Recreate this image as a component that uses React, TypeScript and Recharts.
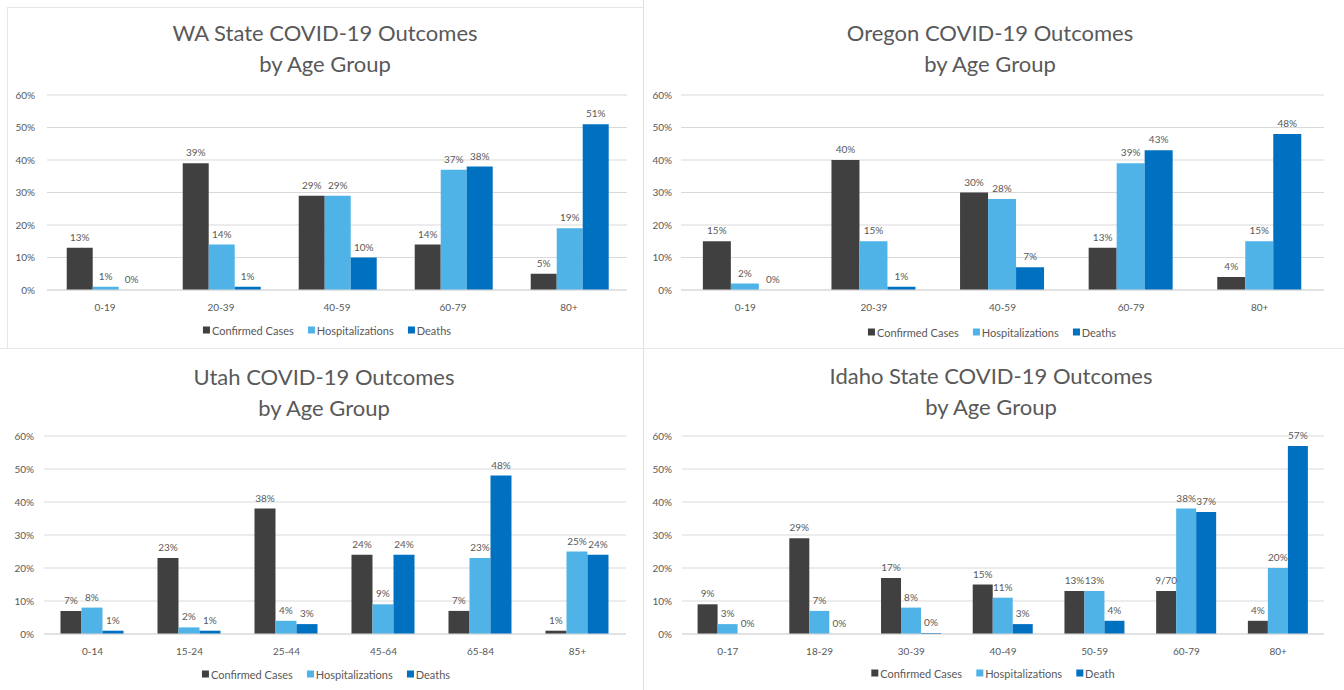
import { BarChart, Bar, XAxis, YAxis, CartesianGrid, LabelList } from 'recharts'

const waAges = ['0-19', '20-39', '40-59', '60-79', '80+']
const waConfirmed = [13, 39, 29, 14, 5]
const waHosp = [1, 14, 29, 37, 19]
const waDeaths = [0, 1, 10, 38, 51]

const orAges = ['0-19', '20-39', '40-59', '60-79', '80+']
const orConfirmed = [15, 40, 30, 13, 4]
const orHosp = [2, 15, 28, 39, 15]
const orDeaths = [0, 1, 7, 43, 48]

const utAges = ['0-14', '15-24', '25-44', '45-64', '65-84', '85+']
const utConfirmed = [7, 23, 38, 24, 7, 1]
const utHosp = [8, 2, 4, 9, 23, 25]
const utDeaths = [1, 1, 3, 24, 48, 24]

const idAges = ['0-17', '18-29', '30-39', '40-49', '50-59', '60-79', '80+']
const idConfirmed = [9, 29, 17, 15, 13, 13, 4]
const idHosp = [3, 7, 8, 11, 13, 38, 20]
const idDeaths = [0, 0, 0.3, 3, 4, 37, 57]
// the 60-79 confirmed label reads "9/70" in the source
const idConfirmedLabels = ['9%', '29%', '17%', '15%', '13%', '9/70', '4%']

const yTicks = [0, 10, 20, 30, 40, 50, 60]

const DARK = '#404040'
const LIGHT = '#4fb3e8'
const BLUE = '#0070c0'
const TEXT = '#595959'

type PanelProps = {
  title: string
  ages: string[]
  confirmed: number[]
  hosp: number[]
  deaths: number[]
  deathName: string
  confirmedLabels?: string[]
  left: number
  top: number
  width: number
  height: number
  margin: { top: number; right: number; bottom: number; left: number }
  yWidth: number
  yTickMargin: number
  titleX: number
  titleY: number
  legendX: number
  legendY: number
}

function Panel(p: PanelProps) {
  const rows = p.ages.map((a, i) => ({
    age: a,
    confirmed: p.confirmed[i],
    hosp: p.hosp[i],
    deaths: p.deaths[i],
    cLabel: p.confirmedLabels ? p.confirmedLabels[i] : `${Math.round(p.confirmed[i])}%`,
  }))
  const pct = (v: any) => `${Math.round(Number(v))}%`
  const legendItems = [
    { name: 'Confirmed Cases', color: DARK },
    { name: 'Hospitalizations', color: LIGHT },
    { name: p.deathName, color: BLUE },
  ]
  return (
    <div style={{ position: 'absolute', left: p.left, top: p.top, width: p.width, height: p.height }}>
      <div
        style={{
          position: 'absolute',
          left: p.titleX,
          top: p.titleY,
          transform: 'translate(-50%, -50%)',
          textAlign: 'center',
          fontSize: 22,
          lineHeight: '31px',
          color: TEXT,
          whiteSpace: 'nowrap',
        }}
      >
        {p.title}
        <br />
        by Age Group
      </div>
      <BarChart
        width={p.width}
        height={p.height}
        data={rows}
        margin={p.margin}
        barGap={0}
        barCategoryGap="17%"
      >
        <CartesianGrid vertical={false} stroke="#d9d9d9" />
        <XAxis
          dataKey="age"
          stroke="#d9d9d9"
          tickLine={false}
          tickMargin={8}
          height={30}
          tick={{ fill: TEXT, fontSize: 10 }}
        />
        <YAxis
          domain={[0, 60]}
          ticks={yTicks}
          width={p.yWidth}
          axisLine={false}
          tickLine={false}
          tickMargin={p.yTickMargin}
          tickFormatter={(v) => `${v}%`}
          tick={{ fill: TEXT, fontSize: 10 }}
        />
        <Bar dataKey="confirmed" fill={DARK} minPointSize={0.01} isAnimationActive={false}>
          <LabelList dataKey="cLabel" position="top" offset={7} fill={TEXT} fontSize={10} />
        </Bar>
        <Bar dataKey="hosp" fill={LIGHT} minPointSize={0.01} isAnimationActive={false}>
          <LabelList dataKey="hosp" position="top" offset={7} fill={TEXT} fontSize={10} formatter={pct} />
        </Bar>
        <Bar dataKey="deaths" fill={BLUE} minPointSize={0.01} isAnimationActive={false}>
          <LabelList dataKey="deaths" position="top" offset={7} fill={TEXT} fontSize={10} formatter={pct} />
        </Bar>
      </BarChart>
      <div
        style={{
          position: 'absolute',
          left: p.legendX,
          top: p.legendY,
          transform: 'translate(-50%, -50%)',
          display: 'flex',
          gap: 14,
          fontSize: 11,
          color: TEXT,
          whiteSpace: 'nowrap',
        }}
      >
        {legendItems.map((it) => (
          <span key={it.name} style={{ display: 'flex', alignItems: 'center' }}>
            <span style={{ width: 7, height: 7, background: it.color, marginRight: 2, display: 'inline-block' }} />
            {it.name}
          </span>
        ))}
      </div>
    </div>
  )
}

export default function App() {
  return (
    <div
      style={{
        position: 'absolute',
        left: 0,
        top: 0,
        width: 1344,
        height: 690,
        background: '#fff',
        fontFamily: 'Lato, "Open Sans", sans-serif',
        overflow: 'hidden',
      }}
    >
      <div style={{ position: 'absolute', left: 7, top: 7, width: 636, height: 341, borderLeft: '1px solid #e6e6e6', borderTop: '1px solid #e6e6e6' }} />
      <div style={{ position: 'absolute', left: 643, top: 0, width: 1, height: 690, background: '#e0e0e0' }} />
      <div style={{ position: 'absolute', left: 0, top: 348, width: 1344, height: 1, background: '#e6e6e6' }} />
      <Panel
        title="WA State COVID-19 Outcomes"
        ages={waAges}
        confirmed={waConfirmed}
        hosp={waHosp}
        deaths={waDeaths}
        deathName="Deaths"
        left={0}
        top={0}
        width={643}
        height={348}
        margin={{ top: 95, right: 16, bottom: 28, left: 7 }}
        yWidth={40}
        yTickMargin={6}
        titleX={325}
        titleY={48}
        legendX={327}
        legendY={330}
      />
      <Panel
        title="Oregon COVID-19 Outcomes"
        ages={orAges}
        confirmed={orConfirmed}
        hosp={orHosp}
        deaths={orDeaths}
        deathName="Deaths"
        left={644}
        top={0}
        width={700}
        height={348}
        margin={{ top: 95, right: 20, bottom: 28, left: 0 }}
        yWidth={37}
        yTickMargin={3}
        titleX={346}
        titleY={48}
        legendX={348}
        legendY={332}
      />
      <Panel
        title="Utah COVID-19 Outcomes"
        ages={utAges}
        confirmed={utConfirmed}
        hosp={utHosp}
        deaths={utDeaths}
        deathName="Deaths"
        left={0}
        top={349}
        width={643}
        height={341}
        margin={{ top: 87, right: 17, bottom: 26, left: 4 }}
        yWidth={40}
        yTickMargin={4}
        titleX={324}
        titleY={43}
        legendX={326}
        legendY={325}
      />
      <Panel
        title="Idaho State COVID-19 Outcomes"
        ages={idAges}
        confirmed={idConfirmed}
        hosp={idHosp}
        deaths={idDeaths}
        deathName="Death"
        confirmedLabels={idConfirmedLabels}
        left={644}
        top={349}
        width={700}
        height={341}
        margin={{ top: 87, right: 20, bottom: 26, left: 0 }}
        yWidth={38}
        yTickMargin={4}
        titleX={347}
        titleY={42}
        legendX={349}
        legendY={324}
      />
    </div>
  )
}
